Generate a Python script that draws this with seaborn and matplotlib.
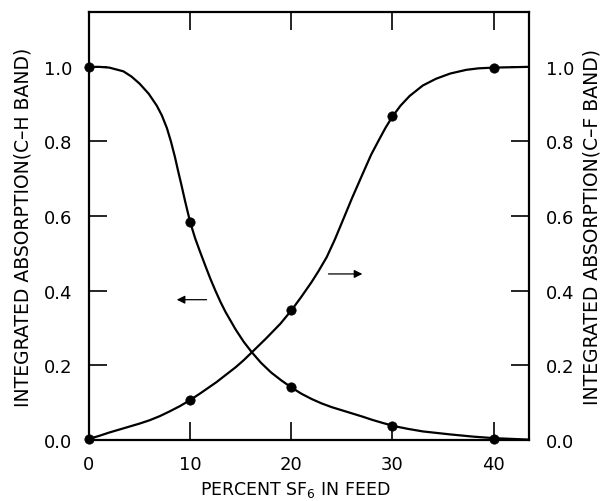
import matplotlib
matplotlib.use("Agg")
import matplotlib.pyplot as plt
import seaborn as sns
import pandas as pd

# measured data points
x_pts = [0, 10, 20, 30, 40]
ch_pts = [1.0, 0.585, 0.142, 0.037, 0.002]
cf_pts = [0.003, 0.108, 0.348, 0.869, 0.997]

# smooth curves
ch_curve_x = [0, 1, 2, 3.4, 4.2, 5, 5.9, 6.7, 7.2, 7.7, 8.1, 8.5, 8.8, 9.15, 9.5, 10,
              10.5, 11, 11.5, 12, 12.5, 13, 13.5, 14.5, 15.3, 16.1, 17, 18, 19, 20,
              21, 22, 23, 24, 25.8, 27, 28, 29, 30.2, 31.5, 33, 35.7, 38, 40, 43.5]
ch_curve_y = [1.0, 1.0, 0.998, 0.988, 0.974, 0.955, 0.928, 0.896, 0.870, 0.836, 0.800,
              0.758, 0.722, 0.682, 0.640, 0.584, 0.540, 0.503, 0.467, 0.432, 0.400,
              0.370, 0.343, 0.296, 0.263, 0.235, 0.207, 0.181, 0.160, 0.141, 0.124,
              0.110, 0.098, 0.088, 0.073, 0.063, 0.054, 0.046, 0.037, 0.030, 0.023,
              0.015, 0.009, 0.005, 0.001]
cf_curve_x = [0, 1, 2, 3, 4, 5, 6, 7, 8, 9, 10, 11, 12.6, 13.5, 14.5, 15.3, 16.1, 17.5,
              18.9, 20, 21, 22, 22.7, 23.5, 24.3, 25.1, 26, 27.1, 27.9, 28.7, 29.3, 30,
              30.8, 31.7, 33, 34.3, 35.7, 37.3, 38.5, 40, 43.5]
cf_curve_y = [0.003, 0.011, 0.020, 0.028, 0.036, 0.044, 0.053, 0.064, 0.077, 0.091,
              0.107, 0.125, 0.155, 0.174, 0.195, 0.214, 0.235, 0.272, 0.311, 0.347,
              0.384, 0.423, 0.453, 0.490, 0.537, 0.589, 0.648, 0.716, 0.765, 0.806,
              0.836, 0.867, 0.896, 0.922, 0.950, 0.968, 0.982, 0.992, 0.996, 0.998,
              1.0]

x_ticks = [0, 10, 20, 30, 40]
y_ticks = [0.0, 0.2, 0.4, 0.6, 0.8, 1.0]
y_ticklabels = ["0.0", "0.2", "0.4", "0.6", "0.8", "1.0"]

sns.set_style("ticks")
plt.rcParams["font.family"] = ["DejaVu Sans"]
plt.rcParams["axes.labelcolor"] = "black"
plt.rcParams["text.color"] = "black"

fig = plt.figure(figsize=(6.07, 5.02), dpi=100)
ax = fig.add_axes([89 / 607, 1 - 441 / 502, 440 / 607, 428 / 502])

ch_df = pd.DataFrame({"x": ch_curve_x, "y": ch_curve_y})
cf_df = pd.DataFrame({"x": cf_curve_x, "y": cf_curve_y})
pts_df = pd.DataFrame({"x": x_pts + x_pts, "y": ch_pts + cf_pts})

sns.lineplot(data=ch_df, x="x", y="y", ax=ax, color="black", lw=1.6, sort=False,
             estimator=None)
sns.lineplot(data=cf_df, x="x", y="y", ax=ax, color="black", lw=1.6, sort=False,
             estimator=None)
sns.scatterplot(data=pts_df, x="x", y="y", ax=ax, color="black", s=45,
                edgecolor="black", zorder=5, clip_on=False)

ax.set_xlim(0, 43.5)
ax.set_ylim(0, 1.147)
ax.set_xticks(x_ticks)
ax.set_yticks(y_ticks)
ax.set_yticklabels(y_ticklabels)

for s in ax.spines.values():
    s.set_visible(True)
    s.set_linewidth(1.6)
    s.set_color("black")

ax.tick_params(axis="both", direction="in", length=13, width=1.2, labelsize=13,
               colors="black", top=True, right=True)
ax.tick_params(axis="x", pad=11)
ax.tick_params(axis="y", pad=12)

ax.set_xlabel("PERCENT SF$_6$ IN FEED", fontsize=12.5, color="black")
ax.xaxis.set_label_coords(0.47, -0.09)
ax.set_ylabel("INTEGRATED ABSORPTION(C\u2013H BAND)", fontsize=13.5, labelpad=8,
              color="black")

ax2 = ax.twinx()
ax2.set_ylim(0, 1.147)
ax2.set_yticks(y_ticks)
ax2.set_yticklabels(y_ticklabels)
ax2.tick_params(axis="y", direction="in", length=13, width=1.2, labelsize=13,
                colors="black", pad=12)
ax2.set_ylabel("INTEGRATED ABSORPTION(C\u2013F BAND)", fontsize=13.5, labelpad=6,
               color="black")
for s in ax2.spines.values():
    s.set_visible(False)

# arrows
ax.annotate("", xy=(8.4, 0.376), xytext=(11.9, 0.376),
            arrowprops=dict(arrowstyle="-|>", color="black", lw=0.9,
                            mutation_scale=12))
ax.annotate("", xy=(27.3, 0.445), xytext=(23.4, 0.445),
            arrowprops=dict(arrowstyle="-|>", color="black", lw=0.9,
                            mutation_scale=12))

fig.savefig("out.png", dpi=100)
